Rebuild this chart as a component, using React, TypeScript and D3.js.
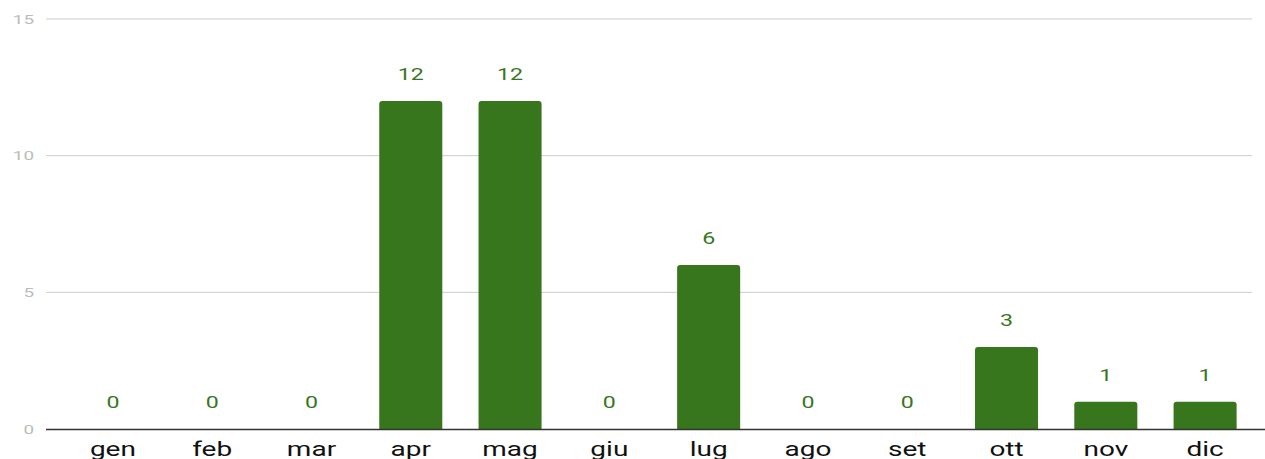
import React from "react";
import * as d3 from "d3";

const months = ["gen","feb","mar","apr","mag","giu","lug","ago","set","ott","nov","dic"];
const values = [0,0,0,12,12,0,6,0,0,3,1,1];
const yTicks = [0,5,10,15];

const W = 1265, H = 459;
const SX = 1.45;

export default function App() {
  const x = d3.scaleBand<string>().domain(months).range([63.5, 1254.5]).paddingInner(0.365).paddingOuter(0.18);
  const y = d3.scaleLinear().domain([0, 15]).range([429, 19]);
  const bw = x.bandwidth();
  return (
    <svg width={W} height={H} style={{ position: "absolute", left: 0, top: 0, fontFamily: "Roboto, sans-serif" }}>
      {yTicks.map(t => (
        <g key={t}>
          {t > 0 && <line x1={46} x2={1252} y1={y(t)} y2={y(t)} stroke="#cccccc" strokeWidth={1} />}
          <text transform={`translate(34,${y(t) + 4.5}) scale(${SX},1)`} textAnchor="end" fontSize={13} fill="#bbbbbb">{t}</text>
        </g>
      ))}
      {months.map((m, i) => {
        const v = values[i];
        const cx = (x(m) as number) + bw / 2;
        const yt = y(v);
        return (
          <g key={m}>
            {v > 0 && <path d={`M${cx - bw/2},${y(0)} V${yt + 3} Q${cx - bw/2},${yt} ${cx - bw/2 + 3},${yt} H${cx + bw/2 - 3} Q${cx + bw/2},${yt} ${cx + bw/2},${yt + 3} V${y(0)} Z`} fill="#38761d" />}
            <text transform={`translate(${cx},${yt - 21}) scale(${SX},1)`} textAnchor="middle" fontSize={16} fill="#38761d">{v}</text>
            <text transform={`translate(${cx},${456}) scale(1.4,1)`} textAnchor="middle" fontSize={20} fill="#111">{m}</text>
          </g>
        );
      })}
      <line x1={46} x2={1265} y1={429.5} y2={429.5} stroke="#333" strokeWidth={1.5} />
    </svg>
  );
}
